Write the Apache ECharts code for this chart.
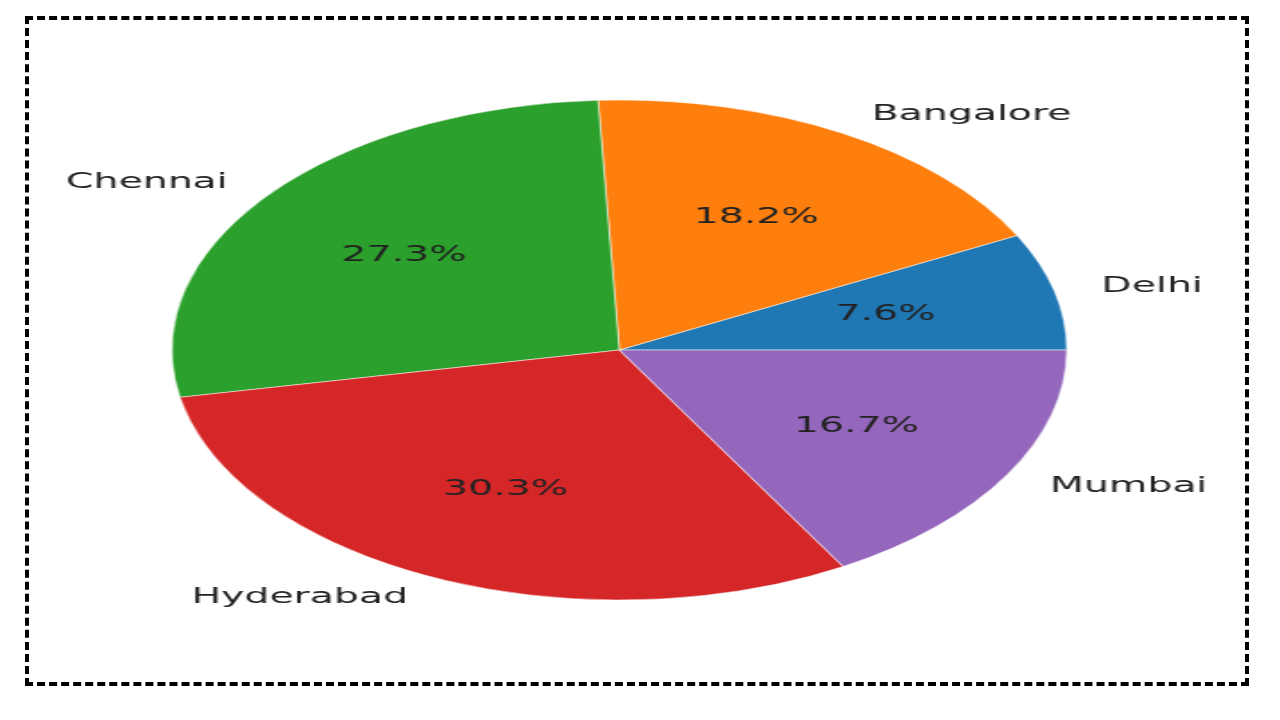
<!doctype html>
<html>
<head>
<meta charset="utf-8">
<script src="https://cdn.jsdelivr.net/npm/echarts@6/dist/echarts.min.js"></script>
<style>
  body{margin:0;background:#fff;width:1280px;height:720px;overflow:hidden;position:relative}
  .frame{position:absolute;left:25px;top:16px;width:1216px;height:662px;border:4px dashed #000}
  #wrap{position:absolute;left:0;top:0;width:715px;height:720px;transform:scaleX(1.79);transform-origin:0 0}
  #chart{width:715px;height:720px}
</style>
</head>
<body>
<div class="frame"></div>
<div id="wrap"><div id="chart"></div></div>
<script>
const cities = ['Delhi', 'Bangalore', 'Chennai', 'Hyderabad', 'Mumbai'];
const counts = [5, 12, 18, 20, 11];
const colors = ['#1f77b4', '#ff7f0e', '#2ca02c', '#d62728', '#9467bd'];

const data = cities.map((c, i) => ({ name: c, value: counts[i] }));
const chart = echarts.init(document.getElementById('chart'), null, { renderer: 'canvas' });
const font = 'DejaVu Sans';
chart.setOption({
  animation: false,
  color: colors,
  series: [
    {
      type: 'pie', center: [346, 350], radius: [0, 250], startAngle: 0, clockwise: false,
      itemStyle: { borderColor: '#fff', borderWidth: 0.5 },
      label: { show: true, position: 'outside', formatter: '{b}', color: '#222', fontSize: 22, fontFamily: font },
      labelLine: { show: false, length: 22, length2: 0 },
      emphasis: { disabled: true },
      data
    },
    {
      type: 'pie', center: [346, 350], radius: [0, 300], startAngle: 0, clockwise: false,
      silent: true,
      itemStyle: { color: 'transparent' },
      label: { show: true, position: 'inside', color: '#222', fontSize: 22, fontFamily: font,
        formatter: p => p.percent.toFixed(1) + '%' },
      data
    }
  ]
});
</script>
</body>
</html>
